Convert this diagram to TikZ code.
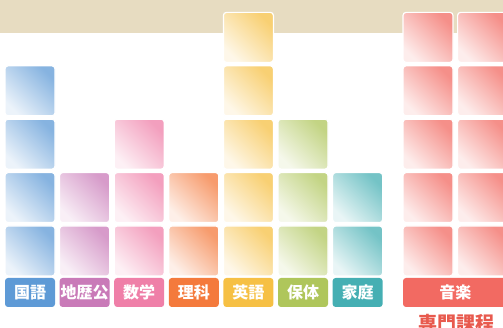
\documentclass[tikz,border=0pt]{standalone}
\usepackage{fontspec}
\newfontfamily\jp{Noto Sans CJK JP}

\definecolor{band}{HTML}{E7DCC1}
\definecolor{kokugo}{HTML}{5E9AD6}
\definecolor{chireki}{HTML}{C97AB8}
\definecolor{sugaku}{HTML}{EF7FA8}
\definecolor{rika}{HTML}{F47A3C}
\definecolor{eigo}{HTML}{F6C044}
\definecolor{hotai}{HTML}{AFC65B}
\definecolor{katei}{HTML}{45AFB3}
\definecolor{ongaku}{HTML}{F26A62}
\definecolor{senmon}{HTML}{E85A4E}

\tikzset{
  cell/.style={draw=white, line width=1.2pt, rounded corners=3pt, minimum width=50pt, minimum height=50pt, inner sep=0pt,
    top color=#1!75, bottom color=#1!12, shading angle=-45},
  tag/.style={fill=#1, rounded corners=3pt, minimum width=50pt, minimum height=29pt, inner sep=0pt,
    text=white, font=\jp\bfseries\fontsize{16}{16}\selectfont}
}

\begin{document}
\begin{tikzpicture}[x=1pt,y=1pt]
\useasboundingbox (0,0) rectangle (503,328);
\clip (0,0) rectangle (503,328);

% Top band
\fill[band] (0,295) rectangle (503,328);

% Subject columns
\foreach \col/\n [count=\i from 0] in {kokugo/4, chireki/2, sugaku/3, rika/2, eigo/5, hotai/3, katei/2}
  \foreach \r in {1,...,\n}
    \node[cell=\col] (\col-\r) at ({30+54.6*\i},{77+53.4*(\r-1)}) {};

% Music (two columns)
\foreach \c [count=\j] in {428,482.6}
  \foreach \r in {1,...,5}
    \node[cell=ongaku] (ongaku-\j-\r) at (\c,{77+53.4*(\r-1)}) {};

% Labels
\node[tag=kokugo]  (kokugo-tag)  at (30,35.5)    {国語};
\node[tag=chireki] (chireki-tag) at (84.6,35.5)  {地歴公};
\node[tag=sugaku]  (sugaku-tag)  at (139.2,35.5) {数学};
\node[tag=rika]    (rika-tag)    at (193.8,35.5) {理科};
\node[tag=eigo]    (eigo-tag)    at (248.4,35.5) {英語};
\node[tag=hotai]   (hotai-tag)   at (303,35.5)   {保体};
\node[tag=katei]   (katei-tag)   at (357.6,35.5) {家庭};
\node[tag=ongaku, minimum width=104.6pt] (ongaku-tag) at (455.3,35.5) {音楽};

\node[text=senmon, font=\jp\bfseries\fontsize{19}{19}\selectfont] (senmon) at (456,5) {専門課程};
\end{tikzpicture}
\end{document}
